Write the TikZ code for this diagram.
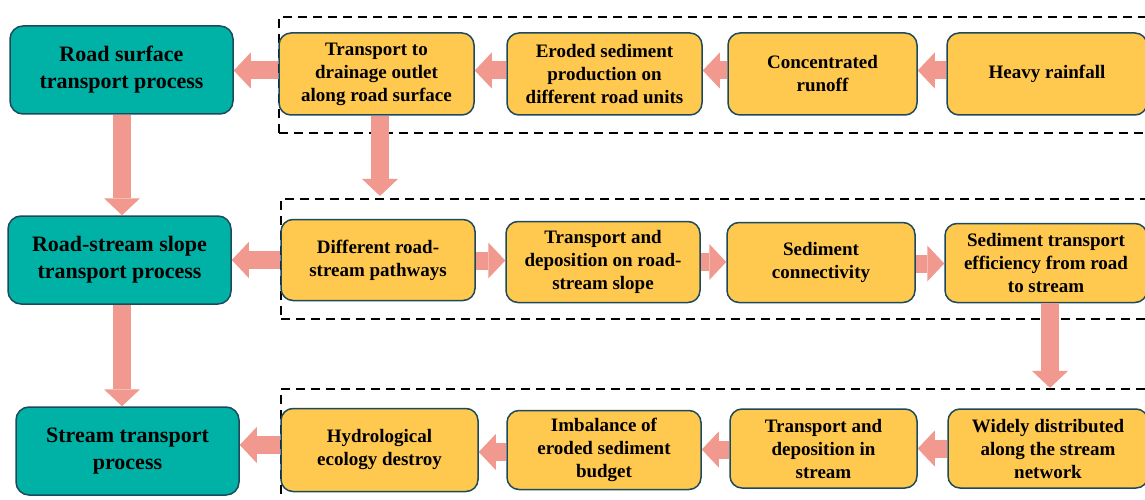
\documentclass[tikz,border=0pt]{standalone}
\usepackage{fontspec}
\setmainfont{Liberation Serif}
\usetikzlibrary{arrows.meta}
\definecolor{tealc}{HTML}{00B2A6}
\definecolor{yel}{HTML}{FFC84E}
\definecolor{edge}{HTML}{1C4A5C}
\definecolor{arr}{HTML}{F1998E}
\begin{document}
\begin{tikzpicture}[x=1pt,y=-1pt,
 proc/.style={draw=edge, line width=1.5pt, rounded corners=13pt, fill=tealc, minimum width=223pt, minimum height=88pt, inner sep=0pt, align=center, font=\fontsize{22}{27}\selectfont\bfseries},
 stepbox/.style={draw=edge, line width=1.5pt, rounded corners=12pt, fill=yel, inner sep=0pt, align=center, font=\fontsize{19}{23}\selectfont\bfseries},
 grp/.style={draw=black, line width=2.2pt, dash pattern=on 9pt off 6pt, inner sep=0pt},
 blk/.style={draw=arr, line width=18pt, -{Triangle[width=36pt,length=17pt,line width=0pt]}}
]
\useasboundingbox (0,0) rectangle (1145,500);
\fill[white] (0,0) rectangle (1145,500);
% dashed groups
\node[grp, minimum width=871pt, minimum height=116pt] (d1) at (714.5,75) {};
\node[grp, minimum width=869pt, minimum height=120pt] (d2) at (715.5,259) {};
\node[grp, minimum width=869pt, minimum height=131pt] (d3) at (715.5,454.5) {};
% left process boxes
\node[proc] (t1) at (121.5,70) {Road surface\\transport process};
\node[proc] (t2) at (119.5,260) {Road-stream slope\\transport process};
\node[proc] (t3) at (127.5,451) {Stream transport\\process};
% row 1
\node[stepbox, minimum width=195pt, minimum height=82pt] (a1) at (376.5,74) {Transport to\\drainage outlet\\along road surface};
\node[stepbox, minimum width=195pt, minimum height=82pt] (a2) at (604.5,74) {Eroded sediment\\production on\\different road units};
\node[stepbox, minimum width=189pt, minimum height=82pt] (a3) at (822.5,74) {Concentrated\\runoff};
\node[stepbox, minimum width=200pt, minimum height=82pt] (a4) at (1047,74) {Heavy rainfall};
% row 2
\node[stepbox, minimum width=194pt, minimum height=81pt] (b1) at (378,260) {Different road-\\stream pathways};
\node[stepbox, minimum width=194pt, minimum height=81pt] (b2) at (603,262) {Transport and\\deposition on road-\\stream slope};
\node[stepbox, minimum width=188pt, minimum height=80pt] (b3) at (821,262.5) {Sediment\\connectivity};
\node[stepbox, minimum width=202pt, minimum height=79pt] (b4) at (1046,263) {Sediment transport\\efficiency from road\\to stream};
% row 3
\node[stepbox, minimum width=197pt, minimum height=83pt] (c1) at (379.5,450) {Hydrological\\ecology destroy};
\node[stepbox, minimum width=194pt, minimum height=79pt] (c2) at (604,450) {Imbalance of\\eroded sediment\\budget};
\node[stepbox, minimum width=187pt, minimum height=79pt] (c3) at (823.5,448.5) {Transport and\\deposition in\\stream};
\node[stepbox, minimum width=200pt, minimum height=79pt] (c4) at (1048,448.5) {Widely distributed\\along the stream\\network};
% row 1 arrows
\draw[blk] ([yshift=3.5pt]a4.west) -- ([yshift=3.5pt]a3.east);
\draw[blk] ([yshift=3.5pt]a3.west) -- ([yshift=3.5pt]a2.east);
\draw[blk] ([yshift=3.5pt]a2.west) -- ([yshift=3.5pt]a1.east);
\draw[blk] ([yshift=3.5pt]a1.west) -- ([yshift=3.5pt]a1.west -| t1.east);
% row 2 arrows
\draw[blk] (b1.west) -- (b1.west -| t2.east);
\draw[blk] ([yshift=-0.5pt]b1.east) -- ([yshift=-0.5pt]b1.east -| b2.west);
\draw[blk] (b2.east) -- (b2.east -| b3.west);
\draw[blk] ([yshift=-1pt]b3.east) -- ([yshift=-1pt]b3.east -| b4.west);
% row 3 arrows
\draw[blk] (c4.west) -- (c4.west -| c3.east);
\draw[blk] ([yshift=-1pt]c3.west) -- ([yshift=-1pt]c3.west -| c2.east);
\draw[blk] ([yshift=-2pt]c2.west) -- ([yshift=-2pt]c2.west -| c1.east);
\draw[blk] ([yshift=5pt]c1.west) -- ([yshift=5pt]c1.west -| t3.east);
% vertical arrows
\draw[blk] ([xshift=0.5pt]t1.south) -- ([xshift=0.5pt]t1.south |- t2.north);
\draw[blk] ([xshift=2.5pt]t2.south) -- ([xshift=2.5pt]t2.south |- t3.north);
\draw[blk, shorten >=2pt] ([xshift=3.5pt]a1.south) -- ([xshift=3.5pt]a1.south |- d2.north);
\draw[blk] ([xshift=4pt]b4.south) -- ([xshift=4pt]b4.south |- d3.north);
\end{tikzpicture}
\end{document}
